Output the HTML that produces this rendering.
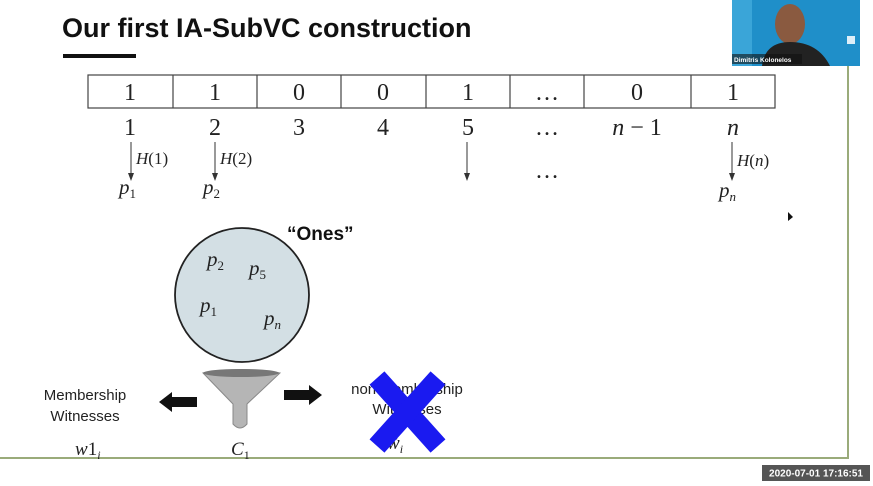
<!DOCTYPE html>
<html><head><meta charset="utf-8"><style>
html,body{margin:0;padding:0;background:#fff;width:873px;height:486px;overflow:hidden}
svg{display:block}
.m{font-family:"Liberation Serif",serif;fill:#222}
.s{font-family:"Liberation Sans",sans-serif;fill:#222}
</style></head><body>
<svg width="873" height="486" viewBox="0 0 873 486" xmlns="http://www.w3.org/2000/svg">
<rect width="873" height="486" fill="#fff"/>
<text x="62" y="37" class="s" font-size="27" font-weight="bold" fill="#111" style="fill:#111">Our first IA-SubVC construction</text>
<rect x="63" y="54" width="73" height="4" fill="#111"/>
<!-- webcam -->
<rect x="732" y="0" width="128" height="66" fill="#1f8fc9"/>
<rect x="732" y="0" width="20" height="66" fill="#3aa5d8"/>
<ellipse cx="790" cy="24" rx="15" ry="20" fill="#8a5a40"/>
<path d="M762 66 Q765 42 790 42 Q818 42 830 66Z" fill="#222"/>
<rect x="732" y="54" width="70" height="10" fill="#111" opacity="0.6"/>
<text x="734" y="62" font-family="Liberation Sans,sans-serif" font-size="6.5" font-weight="bold" fill="#fff">Dimitris Kolonelos</text>
<rect x="847" y="36" width="8" height="8" fill="#ddeef8"/>
<!-- frame lines -->
<line x1="848" y1="66" x2="848" y2="459" stroke="#9aab7a" stroke-width="2"/>
<line x1="0" y1="458" x2="849" y2="458" stroke="#9aab7a" stroke-width="2"/>
<!-- table -->
<g stroke="#444" stroke-width="1.2" fill="none">
<rect x="88" y="75" width="687" height="33"/>
<line x1="173" y1="75" x2="173" y2="108"/><line x1="257" y1="75" x2="257" y2="108"/>
<line x1="341" y1="75" x2="341" y2="108"/><line x1="426" y1="75" x2="426" y2="108"/>
<line x1="510" y1="75" x2="510" y2="108"/><line x1="584" y1="75" x2="584" y2="108"/>
<line x1="691" y1="75" x2="691" y2="108"/>
</g>
<g class="m" font-size="24" text-anchor="middle">
<text x="130" y="100">1</text><text x="215" y="100">1</text><text x="299" y="100">0</text>
<text x="383" y="100">0</text><text x="468" y="100">1</text><text x="547" y="100">…</text>
<text x="637" y="100">0</text><text x="733" y="100">1</text>
<text x="130" y="135">1</text><text x="215" y="135">2</text><text x="299" y="135">3</text>
<text x="383" y="135">4</text><text x="468" y="135">5</text><text x="547" y="135">…</text>
<text x="637" y="135"><tspan font-style="italic">n</tspan> − 1</text><text x="733" y="135" font-style="italic">n</text>
<text x="547" y="178">…</text>
</g>
<g stroke="#333" stroke-width="1">
<line x1="131" y1="142" x2="131" y2="176"/><line x1="215" y1="142" x2="215" y2="176"/>
<line x1="467" y1="142" x2="467" y2="176"/><line x1="732" y1="142" x2="732" y2="176"/>
</g>
<g fill="#333">
<path d="M128 173 L134 173 L131 181Z"/><path d="M212 173 L218 173 L215 181Z"/>
<path d="M464 173 L470 173 L467 181Z"/><path d="M729 173 L735 173 L732 181Z"/>
</g>
<g class="m" font-size="17">
<text x="136" y="164"><tspan font-style="italic">H</tspan>(1)</text>
<text x="220" y="164"><tspan font-style="italic">H</tspan>(2)</text>
<text x="737" y="166"><tspan font-style="italic">H</tspan>(<tspan font-style="italic">n</tspan>)</text>
</g>
<g class="m" font-size="21" font-style="italic">
<text x="119" y="194">p<tspan font-size="13" font-style="normal" dy="4">1</tspan></text>
<text x="203" y="194">p<tspan font-size="13" font-style="normal" dy="4">2</tspan></text>
<text x="719" y="197">p<tspan font-size="13" dy="4">n</tspan></text>
</g>
<path d="M788 212 L788 221 L793 217Z" fill="#111"/>
<!-- circle -->
<ellipse cx="242" cy="295" rx="67" ry="67" fill="#d3dfe4" stroke="#222" stroke-width="1.8"/>
<text x="287" y="240" class="s" font-size="19" font-weight="bold" style="fill:#111">“Ones”</text>
<g class="m" font-size="21" font-style="italic">
<text x="207" y="266">p<tspan font-size="13" font-style="normal" dy="4">2</tspan></text>
<text x="249" y="275">p<tspan font-size="13" font-style="normal" dy="4">5</tspan></text>
<text x="200" y="312">p<tspan font-size="13" font-style="normal" dy="4">1</tspan></text>
<text x="264" y="325">p<tspan font-size="13" dy="4">n</tspan></text>
</g>
<!-- funnel -->
<path d="M203 373 Q241 366 280 373 L247 404 L247 424 Q240 432 233 424 L233 404Z" fill="#b5b5b5" stroke="#888" stroke-width="1"/>
<ellipse cx="241" cy="373" rx="38" ry="4" fill="#777"/>
<!-- arrows -->
<path d="M197 397 L172 397 L172 392 L159 402 L172 412 L172 407 L197 407Z" fill="#111"/>
<path d="M284 390 L309 390 L309 385 L322 395 L309 405 L309 400 L284 400Z" fill="#111"/>
<text x="85" y="400" class="s" font-size="15" text-anchor="middle">Membership</text>
<text x="85" y="421" class="s" font-size="15" text-anchor="middle">Witnesses</text>
<text x="407" y="394" class="s" font-size="15" text-anchor="middle">non membership</text>
<text x="407" y="414" class="s" font-size="15" text-anchor="middle">Witnesses</text>
<g class="m" font-size="19" font-style="italic">
<text x="75" y="455">w<tspan font-style="normal">1</tspan><tspan font-size="12" dy="4">i</tspan></text>
<text x="231" y="455">C<tspan font-size="12" font-style="normal" dy="4">1</tspan></text>
<text x="387" y="449">w̄<tspan font-size="12" dy="4">i</tspan></text>
</g>
<!-- blue X -->
<g stroke="#1a1af0" stroke-width="20">
<line x1="377" y1="378" x2="438" y2="446"/><line x1="438" y1="378" x2="377" y2="446"/>
</g>
<!-- timestamp -->
<rect x="762" y="465" width="108" height="16" fill="#555"/>
<text x="816" y="476.5" font-family="Liberation Sans,sans-serif" font-size="10" font-weight="bold" fill="#fff" text-anchor="middle">2020-07-01 17:16:51</text>
</svg>
</body></html>
